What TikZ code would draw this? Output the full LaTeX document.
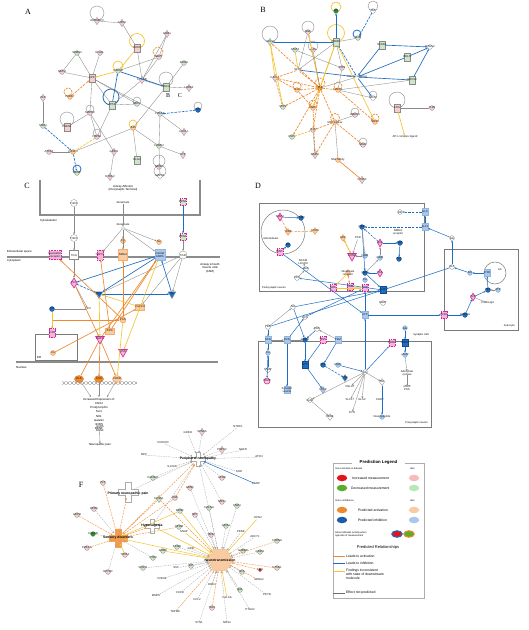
\documentclass[tikz,border=0pt]{standalone}
\usepackage{fontspec}
\setmainfont{Liberation Sans}
\newfontfamily\panelfont{Liberation Serif}
\usetikzlibrary{shapes.geometric,arrows.meta}
\definecolor{pkF}{HTML}{F6D0D0}
\definecolor{grF}{HTML}{CDE5C9}
\definecolor{orD}{HTML}{EE8A2E}
\definecolor{orL}{HTML}{F9CBA2}
\definecolor{blD}{HTML}{1D6DC2}
\definecolor{blL}{HTML}{A9C8EC}
\definecolor{mgD}{HTML}{D8259C}
\definecolor{mgL}{HTML}{F4B5DA}
\definecolor{yeL}{HTML}{F5C431}
\definecolor{edg}{HTML}{8A8A8A}
\definecolor{dgr}{HTML}{1F9A28}
\definecolor{membG}{HTML}{8C8C8C}
\definecolor{rdD}{HTML}{E3151C}
\definecolor{gnD}{HTML}{58AE2B}
\definecolor{boxG}{HTML}{7A7A7A}
\tikzset{
 applystyle/.style={#1},
 nd/.style={inner sep=0pt,minimum size=4.8pt,draw=edg,line width=0.3pt},
 pkc/.style={nd,circle,fill=pkF},
 pkd/.style={nd,diamond,fill=pkF,minimum width=5pt,minimum height=7.5pt},
 pkr/.style={nd,rectangle,fill=pkF,minimum width=5.5pt,minimum height=7.5pt},
 grc/.style={nd,circle,fill=grF},
 grd/.style={nd,diamond,fill=grF,minimum width=5pt,minimum height=7.5pt},
 grr/.style={nd,rectangle,fill=grF,minimum width=5.5pt,minimum height=7.5pt},
 whc/.style={nd,circle,fill=white},
 whr/.style={nd,rectangle,fill=white,minimum width=6pt,minimum height=7pt},
 whdia/.style={nd,diamond,fill=white,minimum width=5pt,minimum height=7pt},
 orc/.style={nd,circle,fill=orL,draw=orD},
 ord/.style={nd,circle,fill=orD,draw=orD!80!black},
 orr/.style={nd,rectangle,fill=orL,draw=orD!70,minimum width=6pt,minimum height=8pt},
 ordia/.style={nd,diamond,fill=orL,draw=orD,minimum width=5pt,minimum height=7pt},
 blc/.style={nd,circle,fill=blD,draw=blD!70!black},
 blLc/.style={nd,circle,fill=blL,draw=blD!60},
 blr/.style={nd,rectangle,fill=blD,draw=blD!70!black,minimum width=6pt,minimum height=7pt},
 blLr/.style={nd,rectangle,fill=blL,draw=blD!50,minimum width=6pt,minimum height=7pt},
 bldia/.style={nd,diamond,fill=blD,minimum width=5pt,minimum height=7pt},
 blLdia/.style={nd,diamond,fill=blL,minimum width=5pt,minimum height=7pt},
 blt/.style={nd,regular polygon,regular polygon sides=3,shape border rotate=180,fill=blD,minimum size=9pt},
 mgr/.style={nd,rectangle,fill=mgL,draw=mgD,line width=0.6pt,dash pattern=on 1pt off 0.6pt,minimum width=6pt,minimum height=7pt},
 mgg/.style={mgr,fill=grF},
 mgd/.style={nd,diamond,fill=mgL,draw=mgD,line width=0.6pt,minimum width=5pt,minimum height=8pt},
 mgt/.style={nd,regular polygon,regular polygon sides=3,shape border rotate=180,fill=mgL,draw=mgD,line width=0.6pt,minimum size=10pt},
 mgc/.style={nd,circle,fill=pkF,draw=mgD,line width=0.6pt,minimum size=6pt},
 dgc/.style={nd,circle,fill=dgr},
 rdc/.style={nd,circle,fill=rdD,minimum size=3.5pt},
 nn/.style={nd,draw=none,fill=none,minimum size=3pt},
 lb/.style={inner sep=0pt,font=\fontsize{2.8}{3.1}\selectfont,text=black!90,align=center},
 arrw/.style={-{Stealth[length=2pt,width=1.8pt]}},
 ge/.style={draw=edg,line width=0.35pt},
 gea/.style={ge,arrw},
 ged/.style={ge,arrw,dash pattern=on 1.2pt off 0.8pt},
 be/.style={draw=blD,line width=0.65pt,arrw},
 bed/.style={be,dash pattern=on 2.5pt off 1.2pt},
 oe/.style={draw=orD,line width=0.65pt,arrw},
 oed/.style={oe,dash pattern=on 2.5pt off 1.2pt},
 ye/.style={draw=yeL,line width=0.65pt,arrw},
 yed/.style={ye,dash pattern=on 2.5pt off 1.2pt},
 lpg/.style={draw=edg,line width=0.4pt},
 lpy/.style={draw=yeL,line width=0.7pt},
 lpo/.style={draw=orD,line width=0.7pt,dash pattern=on 2pt off 1pt},
 lpb/.style={draw=blD,line width=0.8pt},
 memb/.style={draw=membG,line width=2.6pt},
 cbox/.style={draw=boxG,line width=0.5pt},
 fg/.style={draw=edg!80,line width=0.3pt,dash pattern=on 1.5pt off 1pt,arrw},
 fo/.style={draw=orD!90,line width=0.45pt,dash pattern=on 2pt off 1pt,arrw},
 fy/.style={draw=yeL,line width=0.5pt,arrw},
 fb/.style={draw=blD,line width=0.5pt,arrw},
 hubn/.style={circle,minimum size=12pt,inner sep=0pt},
 hublb/.style={inner sep=0pt,font=\bfseries\fontsize{3.4}{3.8}\selectfont},
 pluspic/.pic={\path[pic actions] (-2.6,-8)--(2.6,-8)--(2.6,-2.6)--(8,-2.6)--(8,2.6)--(2.6,2.6)--(2.6,8)--(-2.6,8)--(-2.6,2.6)--(-8,2.6)--(-8,-2.6)--(-2.6,-2.6)--cycle;},
 panel/.style={font=\panelfont\fontsize{8}{8}\selectfont,inner sep=0pt},
 ctext/.style={inner sep=0pt,font=\fontsize{2.9}{3.4}\selectfont,align=center},
 lgt/.style={inner sep=0pt,font=\fontsize{3.4}{4}\selectfont,anchor=west,align=left},
 lgs/.style={inner sep=0pt,font=\fontsize{2.5}{2.9}\selectfont,anchor=west,align=left},
 lge/.style={ellipse,minimum width=10.5pt,minimum height=6.5pt,inner sep=0pt},
}
\begin{document}
\begin{tikzpicture}[x=1pt,y=-1pt]
\fill[white] (0,0) rectangle (529,630);
\useasboundingbox (0,0) rectangle (529,630);
% panel letters
\node[panel] (pA) at (28,12) {A};
\node[panel] (pB) at (263,10) {B};
\node[panel] (pC) at (27,186) {C};
\node[panel] (pD) at (258,186) {D};
\node[panel] (pF) at (81,485) {F};
\node[panel,font=\panelfont\fontsize{6}{6}\selectfont] (pB2) at (168,96) {B};
\node[panel,font=\panelfont\fontsize{6}{6}\selectfont] (pC2) at (180,96) {C};

%%%%%%%%%%%%%%%% PANEL A
\foreach \cx/\cy/\r/\s in {97/13/7/lpg,137/41/7.5/lpy,158/52/5/lpo,118/66/5/lpy,166/79/7/lpg,68/92/4/lpo,111/97/8/lpb,137/101/4/lpg,90/109/4/lpg,67/119/7/lpg,198/106/4/lpg,133/124/4/lpy,97/133/4/lpg,159/161/6/lpg,77/169/4/lpb,160/171/6/lpg}
  \draw[applystyle/.expand once=\s] (\cx,\cy) circle (\r pt);
\foreach \n/\x/\y/\s/\l in {a1/97/21/pkd/ARHGEF3,a2/122/23/pkd/KIF5A,a3/137/48/pkr/CDK5,a4/167/34/pkd/GNB1,a5/159/57/pkc/MAPT,a6/77/53/grc/SEMA4,a7/100/53/pkc/ELAVL,a8/62/72/pkc/NEFH,a9/92/78/pkr/APP,a10/118/71/grc/GSK3B,a11/142/80/pkd/CTNNB,a12/166/87/grr/SNCA,a13/184/63/grc/RHOA,a14/189/88/pkd/LRRK2,a15/43/98/pkd/VCP,a16/70/97/orc/PARK7,a17/112/105/grr/TP53,a18/137/104/grc/NEFL,a19/90/113/pkc/MAPK8,a20/67/127/pkr/PSEN1,a21/43/126/grc/SOD1,a22/160/114/grc/PRKCA,a23/198/110/blc/AKT1,a24/184/132/pkd/UCHL1,a25/133/128/orc/JUN,a26/97/137/pkc/HSPA1,a27/73/152/orc/CASP3,a28/49/152/pkc/ATXN1,a29/114/152/pkd/GRIN1,a30/137/160/grr/DLG4,a31/159/146/grc/CAMK2,a32/159/167/pkc/NOS1,a33/183/155/pkd/SYP,a34/77/173/grc/BDNF,a35/110/177/pkd/NTRK2,a36/160/176/whc/MAPK1}
  {\node[applystyle/.expand once=\s] (\n) at (\x,\y) {}; \node[lb] (\n t) at (\x,\y) {\l};}
\foreach \a/\b in {a1/a2,a2/a3,a3/a11,a5/a10,a4/a11,a5/a11,a6/a9,a7/a9,a8/a9,a6/a8,a9/a19,a9/a17,a9/a18,a9/a22,a11/a12,a11/a17,a13/a12,a14/a12,a15/a21,a12/a25,a17/a18,a17/a26,a19/a20,a19/a26,a19/a29,a22/a24,a22/a31,a25/a27,a25/a30,a25/a31,a28/a27,a31/a33,a31/a36,a29/a35,a4/a5}
  \draw[ge] (\a) -- (\b);
\draw[be] (a10) -- (a12);
\draw[be] (a17) -- (a10);
\draw[bed] (a21) -- (a27);
\draw[bed] (a27) -- (a34);
\draw[bed] (a23) -- (a22);
\draw[oed] (a16) -- (a9);
\draw[ye] (a3) -- (a10);
\draw[ye] (a10) -- (a9);
\draw[yed] (a26) -- (a27);

%%%%%%%%%%%%%%%% PANEL B
\foreach \cx/\cy/\r/\s in {336/7/5/lpy,373/6/5/lpg,357/34/4/lpb,270/34/8/lpg,308/27/6/lpg,336/33/8.5/lpy,313/46/5/lpg,320/83/5/lpo,297/86/4/lpo,338/86/4/lpo,313/104/4/lpo,397/100/8/lpg,355/112/4/lpg,335/118/4.5/lpo,375/118/4/lpo,363/142/4/lpg,373/95/4/lpg}
  \draw[applystyle/.expand once=\s] (\cx,\cy) circle (\r pt);
\foreach \n/\x/\y/\s/\l in {b1/336/11/dgc/IL6,b2/373/11/whc/TNF,b3/358/38/grc/IL1B,b4/270/42/grd/CCL2,b5/308/32/pkc/NGF,b6/336/42/grr/CREB1,b7/295/50/grc/STAT3,b8/313/50/pkc/JUN,b9/382/45/grr/NFKB1,b10/407/57/grr/RELA,b11/430/47/whc/PTGS2,b12/412/80/grr/SOCS3,b13/298/70/nn/GFAP,b14/342/68/pkc/ATF3,b15/357/77/nn/{NFkB (complex)},b16/275/78/pkd/CXCL1,b17/320/88/ord/TNF,b18/297/90/orc/IL1A,b19/338/90/orc/MAPK1,b20/283/107/grc/SPP1,b21/373/98/whc/CD44,b22/313/108/orc/EGR1,b23/397/108/pkr/FOS,b24/432/108/pkc/TLR4,b25/355/115/pkc/HMOX1,b26/335/122/orc/{MAP kinase},b27/375/122/orc/NOS2,b28/313/130/pkc/IL10,b29/292/137/grc/CSF1,b30/405/137/nn/{AP1 complex ligand},b31/363/145/pkc/SELE,b32/315/155/pkd/MMP9,b33/338/160/orc/{Nfat family},b34/362/180/pkd/CD300}
  {\node[applystyle/.expand once=\s] (\n) at (\x,\y) {}; \node[lb] (\n t) at (\x,\y) {\l};}
\foreach \a/\b in {b6/b1,b6/b4,b9/b15,b12/b15,b9/b11,b10/b11,b12/b11,b13/b15,b15/b21,b10/b15}
  \draw[be] (\a) -- (\b);
\foreach \a/\b in {b2/b3,b6/b15}
  \draw[bed] (\a) -- (\b);
\foreach \a/\b in {b17/b4,b17/b5,b17/b13,b17/b16,b17/b18,b17/b19,b17/b22,b17/b26,b17/b28,b17/b20,b17/b29,b18/b16,b26/b32,b26/b28,b26/b31,b19/b27,b18/b22,b13/b16,b22/b32,b16/b20}
  \draw[oed] (\a) -- (\b);
\draw[oe] (b33) -- (b34);
\foreach \a/\b in {b6/b17,b6/b22,b23/b30,b4/b20,b16/b4,b7/b13,b5/b17,b6/b27}
  \draw[ye] (\a) -- (\b);
\draw[yed] (b29) -- (b28);
\foreach \a/\b in {b5/b13,b6/b14,b7/b14,b23/b24,b17/b15,b14/b19,b19/b21,b26/b25,b26/b33,b28/b32,b8/b17,b3/b6,b12/b19,b13/b6}
  \draw[ge] (\a) -- (\b);

%%%%%%%%%%%%%%%% PANEL C
\draw[memb,line join=miter] (40,180) -- (40,215) -- (200,215) -- (200,180);
\draw[memb] (7,257) -- (220,257);
\draw[memb] (16,362) -- (218,362);
\draw[cbox] (35,334) rectangle (77,360);
\node[ctext] (cT1) at (123,188) {Airway Afferent\\(Presynaptic Terminal)};
\node[ctext,anchor=west] (cT2) at (40,221) {Cytoskeleton};
\node[ctext,anchor=west] (cT3) at (7,252) {Extracellular space};
\node[ctext,anchor=west] (cT4) at (7,260.5) {Cytoplasm};
\node[ctext] (cT5) at (210,268) {Airway smooth\\muscle cells\\(ASM)};
\node[ctext,anchor=west] (cT6) at (16,367.5) {Nucleus};
\node[ctext,anchor=west] (cT7) at (37,357) {ER};
\draw[edg,line width=0.3pt] plot[domain=62:137,samples=90] (\x,{383+1.6*sin(\x*45)});
\draw[edg,line width=0.3pt] plot[domain=62:137,samples=90] (\x,{383-1.6*sin(\x*45)});
\foreach \n/\x/\y/\s/\l in {c1/74/203/{whc,minimum size=7pt}/TrkC1,c2/123/202/nn/Glutamate,c3/183/202/mgg/BDNF,c4/74/238/{whc,minimum size=7pt}/TrkC1,c5/123/228/{whc,minimum size=3pt}/{},c6/183/237/mgg/BDNF,c7/123/241/{orc,minimum size=5pt}/Ca,c8/159/242/{orc,minimum size=5pt}/Na,c9/55/255/{mgr,minimum width=12pt,minimum height=9pt}/{Neurokinin\\receptor},c10/74/255/{whr,minimum width=9pt,minimum height=9pt}/TrkA,c11/100/255/{mgr,minimum height=10pt}/TRPV1,c12/123/255/{orr,minimum width=9pt,minimum height=11pt}/NMDA,c13/160/255/{blLr,minimum width=10pt,minimum height=11pt}/{mGluR\\AMPA},c14/183/255/{whc,minimum size=8pt}/TrkB,c15/74/283/{mgd,minimum width=7pt,minimum height=10pt}/PLC,c16/99/294/blt/PKC,c17/172/294/blt/Src,c18/52/309/{blc,minimum size=5pt}/IP3,c19/88/309/nn/PIP2,c20/140/307/{orr,minimum width=9pt,minimum height=6pt}/CaMKII,c21/123/320/{orc,minimum size=6pt}/PKA,c22/110/331/{orr,minimum width=9pt,minimum height=6pt}/ERK,c23/52/333/{mgr,minimum height=9pt}/IP3R,c24/53/353/{orc,minimum size=5pt}/Ca,c25/100/339/mgt/MAPK,c26/123/352/mgt/RSK,c27/79/379/{ord,ellipse,minimum width=9pt,minimum height=7pt}/ELK,c28/99/379/{ord,ellipse,minimum width=9pt,minimum height=7pt}/FOS,c29/117/379/{orc,ellipse,minimum width=9pt,minimum height=7pt}/CREB}
  {\node[applystyle/.expand once=\s] (\n) at (\x,\y) {}; \node[lb] (\n t) at (\x,\y) {\l};}
\node[lb,above=0.5pt] (c5l) at (c5.north) {Glutamate};
\node[ctext,anchor=north,font=\fontsize{2.9}{4.2}\selectfont] (c30) at (99,398) {Increased Expression of:\\COX2\\Prodynorphin\\Tac1\\NK1\\Galanin\\nNOS\\BDNF};
\node[ctext] (c31) at (100,445) {Neuropathic pain};
\coordinate (c30a) at (91,397);
\coordinate (c30b) at (99,397);
\coordinate (c30c) at (107,397);
\draw[gea] (c27) -- (c30a);
\draw[gea] (c28) -- (c30b);
\draw[gea] (c29) -- (c30c);
\draw[gea] (c30) -- (c31);
\foreach \a/\b in {c1/c4,c2/c5,c4/c10,c5/c11,c5/c12,c5/c13,c5/c7,c5/c8,c6/c14,c10/c15,c14/c16,c14/c17,c15/c19,c14/c20}
  \draw[gea] (\a) -- (\b);
\draw[ge] (c18) -- (c19);
\foreach \a/\b in {c3/c6,c13/c15,c16/c17,c17/c13,c13/c16}
  \draw[be] (\a) -- (\b);
\draw[bed] (c15) -- (c16);
\foreach \a/\b in {c21/c9,c21/c12,c25/c13,c22/c13,c15/c25,c25/c27,c25/c28,c25/c29,c24/c20,c22/c11}
  \draw[oe] (\a) -- (\b);
\draw[oe] (c23.north) |- (c21.west);
\foreach \a/\b in {c16/c25,c13/c26,c18/c23,c20/c16,c21/c29}
  \draw[ye] (\a) -- (\b);

%%%%%%%%%%%%%%%% PANEL D
\draw[cbox] (259,203) rectangle (424,291);
\draw[cbox] (444,249) rectangle (518,330);
\draw[cbox] (258,341) rectangle (431,427);
\draw[cbox] (283,232) circle (22pt);
\draw[cbox] (495,273) circle (11pt);
\node[ctext,font=\fontsize{2.6}{3}\selectfont] (dT1) at (271,239) {Microtubules};
\node[ctext,font=\fontsize{2.6}{3}\selectfont,anchor=west] (dT2) at (262,288) {Postsynaptic neuron};
\node[ctext,font=\fontsize{2.6}{3}\selectfont,anchor=east] (dT3) at (515,326) {Astrocyte};
\node[ctext,font=\fontsize{2.6}{3}\selectfont,anchor=east] (dT4) at (428,423) {Presynaptic neuron};
\node[ctext,font=\fontsize{2.6}{3}\selectfont] (dT5) at (421,335) {Synaptic cleft};
\node[ctext,font=\fontsize{2.4}{2.8}\selectfont] (dT6) at (500,270) {ER};
\foreach \n/\x/\y/\s/\l in {d1/280/217/mgd/MAP2,d2/301/218/blc/CAMK,d3/288/232/ordia/TUBB,d4/315/231/ordia/STMN,d5/288/245/blc/KIF,d6/280/252/mgr/MAP1,d7/303/262/nn/{NCAM\\L1CAM},d8/306/269/whc/RAC,d9/297/278/whc/CDC,d10/343/238/ordia/ARC,d11/358/238/nn/PSD,d12/362/227/blc/GRIA,d13/352/256/mgt/SHNK,d14/365/256/blLc/HOM,d15/380/243/mgd/DLG,d16/400/243/blc/NOS,d17/380/258/blLc/GRM,d18/399/259/blc/PLC,d19/398/232/nn/{NMDA\\receptor},d20/365/273/blc/GRIN,d21/380/273/mgd/PKA,d22/348/273/ordia/{Glutamate\\receptor},d23/350/287/mgr/CAM,d24/333/288/mgr/GRK,d25/365/288/mgr/SYN,d26/383/290/blr/GLUT,d27/383/303/whc/EAAT,d28/365/280/blLc/Ca,d29/425/212/blLr/GLS,d30/400/212/whc/Gln,d31/425/227/blLr/SLC1,d32/452/238/whc/Glu,d33/452/267/whc/GLT,d34/470/273/blLc/GS,d35/487/273/blLr/IP3R,d36/488/290/blc/PKC,d37/498/290/blLc/ATP,d38/473/297/mgd/P2X,d39/488/303/nn/Purinergic,d40/465/315/blc/ADORA,d41/444/315/mgr/P2RX,d42/365/315/blLr/ATP,d43/305/317/whc/ACh,d44/293/307/whc/NA,d45/268/327/whc/TRP,d46/268/340/blLr/SCN,d47/287/340/blLr/KCN,d48/305/340/blc/CACN,d49/323/340/mgr/TRPV,d50/338/340/blLr/PIEZ,d51/317/329/whc/ASIC,d52/268/353/blLc/Ca,d53/268/370/whc/SNAP,d55/267/381/mgc/VAMP,d56/287/390/blLr/{Synaptic\\vesicle},d57/305/365/blr/SYT,d58/323/365/blc/STX,d59/338/365/blLc/RIMS,d60/345/378/bldia/NSF,d61/323/390/blLdia/CPLX,d62/365/372/whc/Glu,d64/350/387/nn/VGLUT,d65/362/400/nn/GLS2,d66/350/400/nn/SLC17,d67/382/382/whdia/TAC,d68/380/400/nn/CGRP,d69/382/417/blLc/{Neuropeptide},d70/310/400/whc/SubP,d71/330/417/whdia/PENK,d72/352/413/nn/DYN,d73/392/343/mgr/GRM2,d74/405/343/blr/GRM3,d75/405/328/blLc/Glu,d76/405/355/blLc/cAMP,d77/407/373/nn/{Adenylate\\cyclase},d78/407/388/nn/{cAMP\\PKA}}
  {\node[applystyle/.expand once=\s] (\n) at (\x,\y) {}; \node[lb] (\n t) at (\x,\y) {\l};}
\foreach \a/\b in {d1/d2,d6/d5,d31/d29,d15/d16,d21/d20,d32/d31,d33/d32,d33/d26,d34/d33,d35/d34,d36/d35,d38/d36,d40/d38,d41/d40,d42/d41,d26/d9,d62/d42,d42/d25,d44/d26,d45/d46,d46/d52,d52/d55,d53/d52,d47/d56,d48/d57,d49/d57,d50/d58,d57/d61,d59/d62,d62/d73,d75/d74,d74/d76,d67/d69,d43/d25,d6/d42,d51/d48,d20/d26,d16/d18,d12/d20,d45/d26,d44/d48,d47/d43}
  \draw[be,line width=0.5pt] (\a) -- (\b);
\foreach \a/\b in {d29/d30,d31/d12,d58/d60,d15/d12}
  \draw[bed,line width=0.5pt] (\a) -- (\b);
\foreach \a/\b in {d62/d64,d62/d65,d62/d66,d62/d67,d62/d70,d70/d71,d20/d17,d17/d15,d11/d13,d8/d7,d9/d8,d46/d47,d47/d48,d50/d51,d77/d78,d76/d77,d62/d72,d14/d13,d12/d14,d38/d39,d37/d36,d45/d44}
  \draw[gea] (\a) -- (\b);
\foreach \a/\b in {d1/d3,d3/d4,d22/d23,d13/d10}
  \draw[oed,line width=0.5pt] (\a) -- (\b);
\foreach \a/\b in {d24/d25,d23/d25,d22/d24,d10/d13}
  \draw[ye,line width=0.5pt] (\a) -- (\b);

%%%%%%%%%%%%%%%% PANEL F
\pic[draw=edg!70,fill=white,line width=0.3pt,scale=0.9] at (198,459) {pluspic};
\pic[draw=edg!70,fill=white,line width=0.3pt,scale=1.25] at (128,492) {pluspic};
\pic[draw=edg!70,fill=white,line width=0.3pt,scale=0.85] at (152,526) {pluspic};
\pic[draw=orD!80,fill=orD!85,line width=0.3pt,scale=1.15] at (118,538) {pluspic};
\node[hubn] (fP) at (198,459) {};
\node[hubn] (fQ) at (128,492) {};
\node[hubn] (fH) at (152,526) {};
\node[hubn] (fS) at (118,538) {};
\node[regular polygon,regular polygon sides=6,minimum size=25pt,inner sep=0pt,fill=orL,draw=orD!60,line width=0.3pt] (fN) at (220,560) {};
\foreach \n/\x/\y/\s/\l/\h/\e in {f1/188/433/nn/GRIN2/fP/fg,f2/202/432/pkd/SCN9A/fP/fg,f3/238/427/nn/NTRK1/fP/fg,f4/163/443/nn/CCDC80/fP/fg,f5/144/455/nn/MPZ/fP/fg,f6/222/450/pkd/PMP22/fP/fg,f7/243/450/nn/NGFR/fP/fg,f8/259/457/nn/ATXN/fP/fg,f9/172/467/nn/{S-100A}/fP/fg,f10/239/472/nn/SOD/fP/fg,f11/222/478/pkc/APOE/fP/fg,f12/256/484/nn/CGRP/fP/fb,f13/103/483/pkc/P2X/fS/fo,f14/153/478/grc/CACNA1/fP/fg,f15/190/488/pkc/GDNF/fN/fg,f16/159/499/grd/KCNA1/fS/fo,f17/175/498/pkc/ASIC/fS/fo,f18/94/509/pkc/OPRK/fS/fg,f19/77/515/pkc/ADCB/fS/fo,f20/180/511/grc/BDNF/fS/fy,f21/195/515/pkc/NPY/fN/fg,f22/209/508/grc/CACNA/fN/fg,f23/222/502/pkc/NOS1/fP/fg,f24/237/506/grc/CNR1/fN/fg,f25/226/526/grc/GRIA1/fN/fg,f26/179/527/grc/OPRM/fS/fo,f27/184/532/nn/SNAP/fN/fy,f28/211/535/pkc/TACR/fN/fg,f29/241/532/nn/PENK/fN/fg,f30/93/534/dgc/CACNB/fS/fg,f31/87/548/pkc/PRKCG/fS/fo,f32/125/555/pkc/TRPA1/fS/fy,f33/108/572/pkc/NPY2R/fS/fg,f34/163/551/grc/GRM5/fN/fy,f35/153/558/grc/HTR3/fS/fg,f36/143/568/grc/SCN11/fN/fg,f37/177/547/grc/KCNQ/fN/fg,f38/191/549/nn/GRIK/fN/fg,f39/176/568/nn/SST/fN/fg,f40/191/566/grc/VIP/fN/fg,f41/162/579/nn/P2RX4/fN/fg,f42/156/596/nn/MMP9/fN/fg,f43/180/593/nn/CXCR/fN/fg,f44/197/600/nn/CCL2/fN/fg,f45/175/612/nn/TRPM8/fN/fo,f46/199/623/nn/SYN1/fN/fg,f47/212/608/pkc/TAC1/fN/fo,f48/212/585/nn/DRD2/fN/fg,f49/227/598/nn/CALCA/fN/fy,f50/227/623/nn/NOS2/fN/fg,f51/240/590/grc/GAL/fN/fg,f52/250/610/nn/PTGS2/fN/fg,f53/267/595/nn/PDYN/fN/fg,f54/242/572/grc/NTS/fN/fg,f55/259/580/nn/ADRA2/fN/fo,f56/260/570/rdc/FOS/fN/fo,f57/277/568/pkc/NTSR1/fN/fo,f58/243/551/grc/GABBR/fN/fg,f59/260/552/grc/GRIN1/fN/fg,f60/255/537/nn/ADCY1/fN/fg,f61/277/541/grc/CHRNA/fN/fo,f62/258/518/nn/HCN2/fN/fy}
  {\node[applystyle/.expand once=\s] (\n) at (\x,\y) {}; \node[lb] (\n t) at (\x,\y) {\l}; \draw[applystyle/.expand once=\e] (\n) -- (\h);}
\draw[fo] (fS) -- (fP);
\draw[fo] (fS) -- (fH);
\draw[fy] (fS) -- (fN);
\draw[fy] (fH) -- (fN);
\draw[fg] (fQ) -- (fP);
\draw[fg] (fH) -- (fP);
\draw[fg] (fN) -- (fP);
\draw[fo] (fQ) -- (fS);
\draw[fo] (f16) -- (fN);
\draw[fy] (f20) -- (fN);
\draw[fo] (f17) -- (fP);
\node[hublb] (fPt) at (198,459) {Peripheral neuropathy};
\node[hublb] (fQt) at (128,494) {Primary neuropathic pain};
\node[hublb] (fHt) at (152,526) {Hyperalgesia};
\node[hublb] (fSt) at (118,538) {Sensory disorders};
\node[hublb] (fNt) at (220,560) {Neurotransmission};
\node[lb] (fz1) at (100,427) {nNOS};
\node[lb] (fz2) at (100,430.5) {BDNF};

%%%%%%%%%%%%%%%% LEGEND
\draw[edg!70,line width=0.35pt] (352,463) -- (333,463) -- (333,598) -- (424,598) -- (424,463) -- (405,463);
\node[inner sep=0pt,font=\bfseries\fontsize{4.3}{5}\selectfont] (lgT) at (378.5,462) {Prediction Legend};
\node[lgs] (lg0a) at (335,469) {more extreme in dataset};
\node[lgs] (lg0b) at (410,469) {less};
\node[lge,fill=rdD] (lg1) at (342,478) {};
\node[lgt] (lg1t) at (352,478) {Increased measurement};
\node[lge,fill=pkF!90!red] (lg1b) at (414,478) {};
\node[lge,fill=gnD] (lg2) at (342,488) {};
\node[lgt] (lg2t) at (351,488) {Decreased measurement};
\node[lge,fill=grF!90!green] (lg2b) at (414,488) {};
\node[lgs] (lg3a) at (335,501) {more confidence};
\node[lgs] (lg3b) at (410,501) {less};
\node[lge,fill=orD] (lg3) at (342,510) {};
\node[lgt] (lg3t) at (358,510) {Predicted activation};
\node[lge,fill=orL] (lg3c) at (414,510) {};
\node[lge,fill=blD!85!black] (lg4) at (342,520) {};
\node[lgt] (lg4t) at (358,520) {Predicted inhibition};
\node[lge,fill=blL] (lg4c) at (414,520) {};
\node[lgs] (lg5t) at (335,534.5) {Glow indicates activity when\\opposite of measurement};
\node[lge,fill=rdD,draw=blD,line width=1pt] (lg5a) at (397,534) {};
\node[lge,fill=gnD,draw=orD,line width=1pt] (lg5b) at (409,534) {};
\node[inner sep=0pt,font=\fontsize{4}{4.6}\selectfont] (lg6) at (378,547) {Predicted Relationships};
\coordinate (lo1) at (333,556); \coordinate (lo2) at (345,556);
\coordinate (lb1) at (333,563.5); \coordinate (lb2) at (345,563.5);
\coordinate (ly1) at (333,571); \coordinate (ly2) at (345,571);
\coordinate (lk1) at (333,593); \coordinate (lk2) at (345,593);
\draw[orD,line width=1pt] (lo1) -- (lo2);
\draw[blD,line width=1pt] (lb1) -- (lb2);
\draw[yeL,line width=1pt] (ly1) -- (ly2);
\draw[edg!80!black,line width=1pt] (lk1) -- (lk2);
\node[lgt] (lo3) at (346,556) {Leads to activation};
\node[lgt] (lb3) at (346,563.5) {Leads to inhibition};
\node[lgt,anchor=north west] (ly3) at (346,569.3) {Findings inconsistent\\with state of downstream\\molecule};
\node[lgt] (lk3) at (346,593) {Effect not predicted};
\end{tikzpicture}
\end{document}
